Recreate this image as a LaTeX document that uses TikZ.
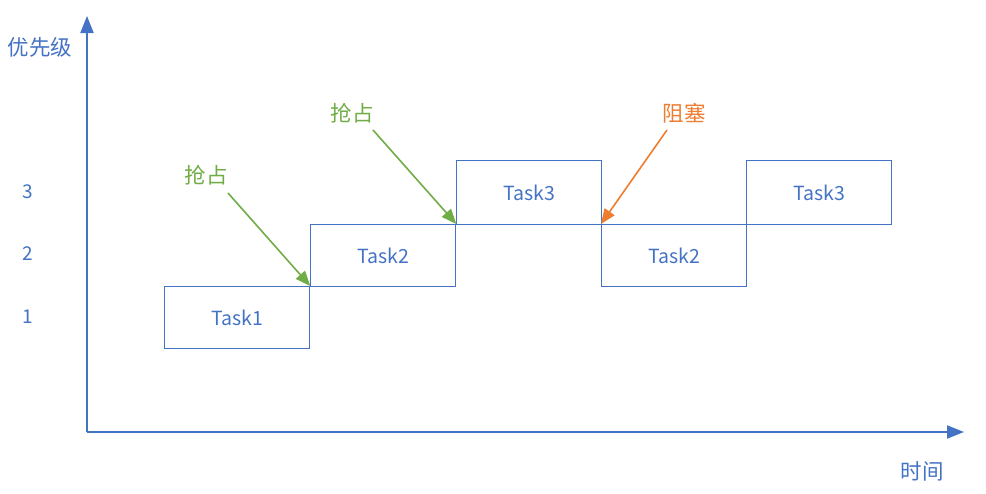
\documentclass[tikz,border=0pt]{standalone}
\usepackage{fontspec}
\setmainfont{Noto Sans CJK SC}
\usetikzlibrary{arrows.meta}
\definecolor{axisblue}{HTML}{4472C4}
\definecolor{preemptgreen}{HTML}{70AD47}
\definecolor{blockorange}{HTML}{ED7D31}
\tikzset{
  taskbox/.style={draw=axisblue, line width=1.3pt, minimum width=145pt, minimum height=62pt,
    inner sep=0pt, anchor=north west, text=axisblue, font=\fontsize{19.5}{22}\selectfont},
  lbl/.style={text=axisblue, font=\fontsize{19}{22}\selectfont},
  note/.style={font=\fontsize{21.5}{24}\selectfont, inner sep=0pt},
  pointer/.style={line width=1.6pt, -{Triangle[length=15pt, width=12pt]}}
}
\begin{document}
\begin{tikzpicture}[x=1pt, y=-1pt]
\useasboundingbox (0,0) rectangle (986,493);
% axes
\coordinate (o) at (87,432);
\coordinate (ytop) at (87,16);
\coordinate (xend) at (964,432);
\draw[axisblue, line width=2pt, -{Triangle[length=17pt, width=13pt]}] (o) -- (ytop);
\draw[axisblue, line width=2pt, -{Triangle[length=17pt, width=13pt]}] (o) -- (xend);
\node[lbl, font=\fontsize{21.5}{24}\selectfont] (ylab) at (40,47) {优先级};
\node[lbl, font=\fontsize{21.5}{24}\selectfont] (xlab) at (922,471) {时间};
\node[lbl] (p3) at (28,192) {3};
\node[lbl] (p2) at (28,254) {2};
\node[lbl] (p1) at (28,317) {1};
% tasks
\node[taskbox] (t1) at (164,286) {Task1};
\node[taskbox] (t2) at (310,224) {Task2};
\node[taskbox, minimum height=64pt] (t3) at (456,160) {Task3};
\node[taskbox] (t4) at (601,224) {Task2};
\node[taskbox, minimum height=64pt] (t5) at (746,160) {Task3};
% events
\node[note, text=preemptgreen] (e1) at (206,175) {抢占};
\node[note, text=preemptgreen] (e2) at (352,113) {抢占};
\node[note, text=blockorange] (e3) at (684,113) {阻塞};
\draw[pointer, preemptgreen] ([shift={(22,18)}]e1.center) -- (t1.north east);
\draw[pointer, preemptgreen] ([shift={(21,17)}]e2.center) -- (t2.north east);
\draw[pointer, blockorange] ([shift={(-17,17)}]e3.center) -- (t4.north west);
\end{tikzpicture}
\end{document}
